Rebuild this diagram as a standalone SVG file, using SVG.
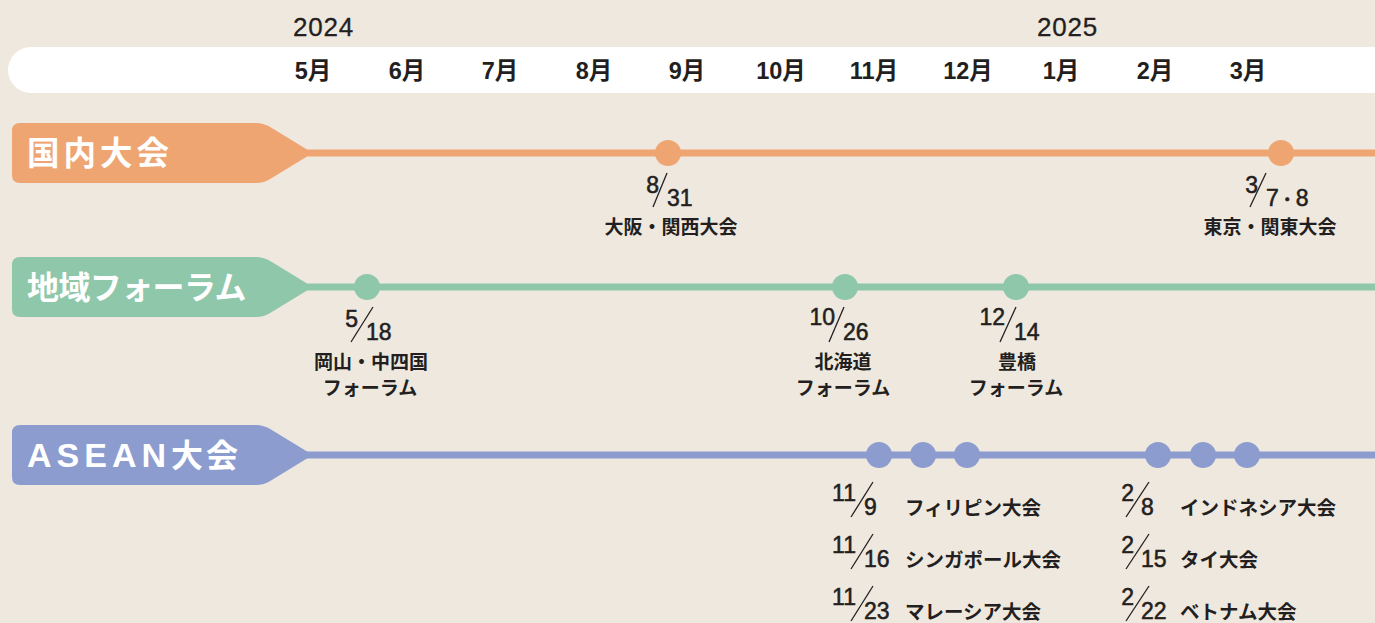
<svg xmlns="http://www.w3.org/2000/svg" width="1375" height="623" viewBox="0 0 1375 623">
<style>
.yr{font-family:"Liberation Sans","Noto Sans CJK JP",sans-serif;font-size:26px;fill:#231F20;letter-spacing:0.8px;stroke:#231F20;stroke-width:0.3}
.mo{font-family:"Liberation Sans","Noto Sans CJK JP",sans-serif;font-size:23.5px;font-weight:bold;fill:#231F20;text-anchor:middle}
.tab{font-family:"Noto Sans CJK JP",sans-serif;font-weight:bold;fill:#FFFFFF}
.tabl{font-family:"Liberation Sans","Noto Sans CJK JP",sans-serif;font-weight:bold;fill:#FFFFFF}
.n{font-family:"Liberation Sans","Noto Sans CJK JP",sans-serif;font-size:23px;fill:#231F20;stroke:#231F20;stroke-width:0.55}
.ne{text-anchor:end}
.lb{font-family:"Noto Sans CJK JP",sans-serif;font-size:19px;font-weight:bold;fill:#231F20}
.lb2{font-family:"Noto Sans CJK JP",sans-serif;font-size:19.5px;font-weight:bold;fill:#231F20}
.c{text-anchor:middle}
.sl{stroke:#231F20;stroke-width:1.3;fill:none}
.or{fill:#EEA572}
.gr{fill:#8FC7AA}
.bl{fill:#8C9CCF}
</style>
<rect width="1375" height="623" fill="#EFE8DF"/>
<g id="timeline-header">
<rect x="8" y="47" width="1420" height="46" rx="23" fill="#FFFFFF"/>
<text class="yr" x="293" y="36">2024</text>
<text class="yr" x="1037" y="36">2025</text>
<text class="mo" x="313" y="79">5月</text>
<text class="mo" x="407" y="79">6月</text>
<text class="mo" x="500" y="79">7月</text>
<text class="mo" x="594" y="79">8月</text>
<text class="mo" x="687" y="79">9月</text>
<text class="mo" x="781" y="79">10月</text>
<text class="mo" x="874" y="79">11月</text>
<text class="mo" x="968" y="79">12月</text>
<text class="mo" x="1061" y="79">1月</text>
<text class="mo" x="1155" y="79">2月</text>
<text class="mo" x="1248" y="79">3月</text>
</g>
<g id="connectors">
<rect class="or" x="300" y="149.5" width="1080" height="7"/>
<rect class="gr" x="300" y="283.5" width="1080" height="7"/>
<rect class="bl" x="300" y="451.5" width="1080" height="7"/>
</g>
<g id="row-domestic">
<path class="or" d="M20 123H256Q264 123 271 127.5L307 149.5V156.5L271 178.5Q264 183 256 183H20Q12 183 12 175V131Q12 123 20 123Z"/>
<text class="tab" x="27" y="165" font-size="32.5" letter-spacing="4">国内大会</text>
</g>
<g id="row-forum">
<path class="gr" d="M20 257H256Q264 257 271 261.5L307 283.5V290.5L271 312.5Q264 317 256 317H20Q12 317 12 309V265Q12 257 20 257Z"/>
<text class="tab" x="27" y="299" font-size="32" letter-spacing="-0.6">地域フォーラム</text>
</g>
<g id="row-asean">
<path class="bl" d="M20 425H256Q264 425 271 429.5L307 451.5V458.5L271 480.5Q264 485 256 485H20Q12 485 12 477V433Q12 425 20 425Z"/>
<text class="tabl" x="27" y="467"><tspan font-size="34" letter-spacing="5">ASEAN</tspan><tspan font-family="Noto Sans CJK JP, sans-serif" font-size="32" letter-spacing="3">大会</tspan></text>
</g>
<g id="event-osaka">
<circle class="or" cx="668" cy="153" r="13"/>
<text class="n ne" x="659" y="193">8</text>
<line class="sl" x1="667" y1="173" x2="653" y2="207"/>
<text class="n" x="667" y="206">31</text>
<text class="lb c" x="671" y="234">大阪・関西大会</text>
</g>
<g id="event-tokyo">
<circle class="or" cx="1281" cy="153" r="13"/>
<text class="n ne" x="1258" y="193">3</text>
<line class="sl" x1="1266" y1="173" x2="1250" y2="207"/>
<text class="n" x="1266" y="206">7<tspan font-size="17">・</tspan>8</text>
<text class="lb c" x="1270" y="234">東京・関東大会</text>
</g>
<g id="event-okayama">
<circle class="gr" cx="367" cy="287" r="13"/>
<text class="n ne" x="358" y="327">5</text>
<line class="sl" x1="373" y1="307" x2="351" y2="342"/>
<text class="n" x="366" y="340">18</text>
<text class="lb c" x="371" y="369">岡山・中四国</text>
<text class="lb c" x="370" y="395">フォーラム</text>
</g>
<g id="event-hokkaido">
<circle class="gr" cx="845" cy="287" r="13"/>
<text class="n ne" x="835" y="325">10</text>
<line class="sl" x1="844" y1="307" x2="829" y2="342"/>
<text class="n" x="843" y="340">26</text>
<text class="lb c" x="843" y="369">北海道</text>
<text class="lb c" x="843" y="395">フォーラム</text>
</g>
<g id="event-toyohashi">
<circle class="gr" cx="1016" cy="287" r="13"/>
<text class="n ne" x="1005" y="325">12</text>
<line class="sl" x1="1016" y1="307" x2="1000" y2="342"/>
<text class="n" x="1014" y="340">14</text>
<text class="lb c" x="1017" y="369">豊橋</text>
<text class="lb c" x="1016" y="395">フォーラム</text>
</g>
<g id="event-asean-nov">
<circle class="bl" cx="879" cy="455" r="13"/>
<circle class="bl" cx="923" cy="455" r="13"/>
<circle class="bl" cx="967" cy="455" r="13"/>
<text class="n ne" x="856" y="501">11</text>
<line class="sl" x1="873" y1="482" x2="851" y2="517"/>
<text class="n" x="864" y="515">9</text>
<text class="lb2" x="905" y="515">フィリピン大会</text>
<text class="n ne" x="856" y="553">11</text>
<line class="sl" x1="873" y1="534" x2="851" y2="569"/>
<text class="n" x="864" y="567">16</text>
<text class="lb2" x="905" y="567">シンガポール大会</text>
<text class="n ne" x="856" y="605">11</text>
<line class="sl" x1="873" y1="586" x2="851" y2="621"/>
<text class="n" x="864" y="619">23</text>
<text class="lb2" x="905" y="619">マレーシア大会</text>
</g>
<g id="event-asean-feb">
<circle class="bl" cx="1158" cy="455" r="13"/>
<circle class="bl" cx="1203" cy="455" r="13"/>
<circle class="bl" cx="1247" cy="455" r="13"/>
<text class="n ne" x="1134" y="501">2</text>
<line class="sl" x1="1149" y1="482" x2="1126" y2="517"/>
<text class="n" x="1141" y="515">8</text>
<text class="lb2" x="1180" y="515">インドネシア大会</text>
<text class="n ne" x="1134" y="553">2</text>
<line class="sl" x1="1149" y1="534" x2="1126" y2="569"/>
<text class="n" x="1141" y="567">15</text>
<text class="lb2" x="1180" y="567">タイ大会</text>
<text class="n ne" x="1134" y="605">2</text>
<line class="sl" x1="1149" y1="586" x2="1126" y2="621"/>
<text class="n" x="1141" y="619">22</text>
<text class="lb2" x="1180" y="619">ベトナム大会</text>
</g>
</svg>
